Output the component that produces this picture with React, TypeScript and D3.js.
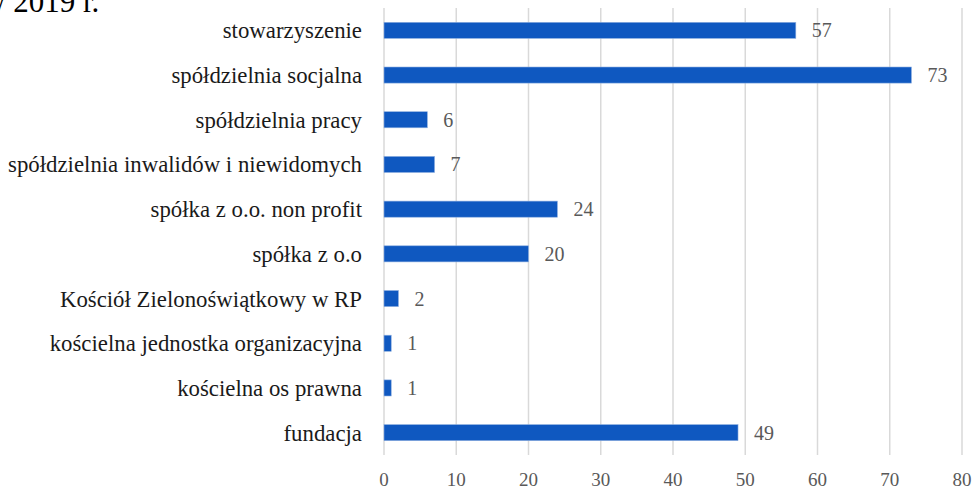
import React from "react";
import * as d3 from "d3";

const categories = [
  "stowarzyszenie",
  "spółdzielnia socjalna",
  "spółdzielnia pracy",
  "spółdzielnia inwalidów i niewidomych",
  "spółka z o.o. non profit",
  "spółka z o.o",
  "Kościół Zielonoświątkowy w RP",
  "kościelna jednostka organizacyjna",
  "kościelna os prawna",
  "fundacja",
];
const values = [57, 73, 6, 7, 24, 20, 2, 1, 1, 49];
const xTicks = [0, 10, 20, 30, 40, 50, 60, 70, 80];

const W = 977;
const H = 491;
const left = 384;
const right = 962;
const top = 8;
const bottom = 455;
const font = "'Liberation Serif', 'DejaVu Serif', serif";

export default function App() {
  const x = d3.scaleLinear().domain([0, 80]).range([left, right]);
  const y = d3
    .scaleBand<string>()
    .domain(categories)
    .range([top, bottom])
    .paddingInner(0.64)
    .paddingOuter(0.32);
  return (
    <svg
      width={W}
      height={H}
      style={{ position: "absolute", left: 0, top: 0, background: "#fff" }}
    >
      <text x={-17} y={12} fontFamily={font} fontSize={31} fill="#000">
        w 2019 r.
      </text>
      {xTicks.map((t) => (
        <g key={t}>
          <line
            x1={x(t)}
            x2={x(t)}
            y1={top}
            y2={bottom}
            stroke="#d9d9d9"
            strokeWidth={1.5}
          />
          <text
            x={x(t)}
            y={486}
            textAnchor="middle"
            fontFamily={font}
            fontSize={19}
            fill="#595959"
          >
            {t}
          </text>
        </g>
      ))}
      {categories.map((c, i) => {
        const yy = y(c)!;
        const bw = y.bandwidth();
        return (
          <g key={c}>
            <rect
              x={x(0)}
              y={yy}
              width={x(values[i]) - x(0)}
              height={bw}
              fill="#0f58c0"
              stroke="#8fb0e0"
              strokeWidth={0.6}
            />
            <text
              x={x(values[i]) + 16}
              y={yy + bw / 2}
              dy="0.35em"
              fontFamily={font}
              fontSize={20}
              fill="#595959"
            >
              {values[i]}
            </text>
            <text
              x={362}
              y={yy + bw / 2}
              dy="0.35em"
              textAnchor="end"
              fontFamily={font}
              fontSize={22.8}
              fill="#1a1a1a"
            >
              {c}
            </text>
          </g>
        );
      })}
    </svg>
  );
}
